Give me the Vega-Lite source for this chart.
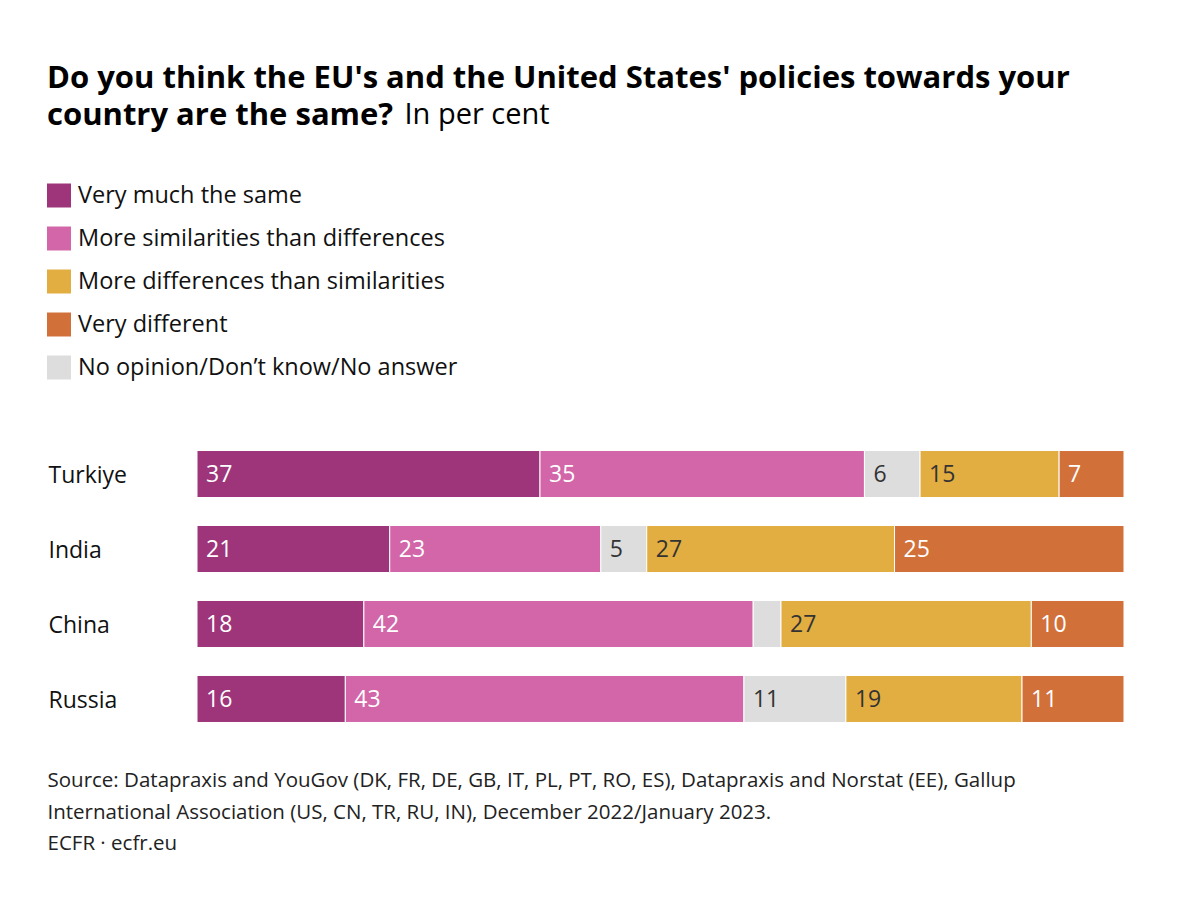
{
  "$schema": "https://vega.github.io/schema/vega-lite/v6.json",
  "width": 927,
  "height": 300,
  "autosize": {"type": "none"},
  "padding": {"left": 197, "top": 436.5, "right": 68, "bottom": 175.5},
  "background": "white",
  "config": {"view": {"stroke": null}, "font": "Open Sans"},
  "title": {
    "text": "Do you think the EU's and the United States' policies towards your",
    "subtitle": "country are the same?",
    "anchor": "start",
    "frame": "group",
    "dx": -150,
    "offset": -32,
    "fontSize": 31,
    "fontWeight": "bold",
    "font": "Open Sans",
    "color": "#000000",
    "subtitleFontSize": 31,
    "subtitleFontWeight": "bold",
    "subtitleFont": "Open Sans",
    "subtitleColor": "#000000",
    "subtitlePadding": 6
  },
  "data": {
    "values": [
      {"country": "Turkiye", "category": "Very much the same", "value": 37},
      {"country": "Turkiye", "category": "More similarities than differences", "value": 35},
      {"country": "Turkiye", "category": "No opinion/Don’t know/No answer", "value": 6},
      {"country": "Turkiye", "category": "More differences than similarities", "value": 15},
      {"country": "Turkiye", "category": "Very different", "value": 7},
      {"country": "India", "category": "Very much the same", "value": 21},
      {"country": "India", "category": "More similarities than differences", "value": 23},
      {"country": "India", "category": "No opinion/Don’t know/No answer", "value": 5},
      {"country": "India", "category": "More differences than similarities", "value": 27},
      {"country": "India", "category": "Very different", "value": 25},
      {"country": "China", "category": "Very much the same", "value": 18},
      {"country": "China", "category": "More similarities than differences", "value": 42},
      {"country": "China", "category": "No opinion/Don’t know/No answer", "value": 3},
      {"country": "China", "category": "More differences than similarities", "value": 27},
      {"country": "China", "category": "Very different", "value": 10},
      {"country": "Russia", "category": "Very much the same", "value": 16},
      {"country": "Russia", "category": "More similarities than differences", "value": 43},
      {"country": "Russia", "category": "No opinion/Don’t know/No answer", "value": 11},
      {"country": "Russia", "category": "More differences than similarities", "value": 19},
      {"country": "Russia", "category": "Very different", "value": 11}
    ]
  },
  "transform": [
    {"calculate": "indexof(['Very much the same','More similarities than differences','No opinion/Don’t know/No answer','More differences than similarities','Very different'], datum.category)", "as": "stackOrder"},
    {"stack": "value", "groupby": ["country"], "sort": [{"field": "stackOrder", "order": "ascending"}], "offset": "normalize", "as": ["v0", "v1"]}
  ],
  "encoding": {
    "y": {
      "field": "country",
      "type": "nominal",
      "sort": ["Turkiye", "India", "China", "Russia"],
      "scale": {"paddingInner": 0.373, "paddingOuter": 0.187},
      "axis": {
        "domain": false,
        "ticks": false,
        "grid": false,
        "labelAlign": "left",
        "labelPadding": 149,
        "labelOffset": 2,
        "labelFontSize": 23,
        "labelColor": "#111111",
        "labelFont": "Open Sans",
        "title": "In per cent",
        "titleAngle": 0,
        "titleX": 207,
        "titleY": -313.5,
        "titleAlign": "left",
        "titleBaseline": "alphabetic",
        "titleFontSize": 29,
        "titleFontWeight": "normal",
        "titleFont": "Open Sans",
        "titleColor": "#000000"
      }
    }
  },
  "layer": [
    {
      "mark": {"type": "bar", "stroke": "white", "strokeWidth": 1},
      "encoding": {
        "x": {
          "field": "v0",
          "type": "quantitative",
          "scale": {"domain": [0, 1], "nice": false},
          "axis": {
            "labels": false,
            "ticks": false,
            "domain": false,
            "grid": false,
            "title": [
              "Source: Datapraxis and YouGov (DK, FR, DE, GB, IT, PL, PT, RO, ES), Datapraxis and Norstat (EE), Gallup",
              "International Association (US, CN, TR, RU, IN), December 2022/January 2023.",
              "ECFR · ecfr.eu"
            ],
            "titleX": -150,
            "titleY": 50,
            "titleAlign": "left",
            "titleAnchor": "start",
            "titleBaseline": "alphabetic",
            "titleLineHeight": 31.5,
            "titleFontSize": 20.5,
            "titleFontWeight": "normal",
            "titleFont": "Open Sans",
            "titleColor": "#222222"
          }
        },
        "x2": {"field": "v1"},
        "color": {
          "field": "category",
          "type": "nominal",
          "scale": {
            "domain": ["Very much the same", "More similarities than differences", "More differences than similarities", "Very different", "No opinion/Don’t know/No answer"],
            "range": ["#9E357A", "#D266A9", "#E2AD41", "#D2703A", "#DDDDDD"]
          },
          "legend": {
            "orient": "none",
            "legendX": -150,
            "legendY": -253,
            "direction": "vertical",
            "title": null,
            "symbolType": "square",
            "symbolSize": 576,
            "symbolStrokeWidth": 0,
            "labelFontSize": 23.5,
            "labelFont": "Open Sans",
            "labelColor": "#111111",
            "labelOffset": 7,
            "labelLimit": 700,
            "rowPadding": 19,
            "padding": 0
          }
        }
      }
    },
    {
      "transform": [{"filter": "datum.value >= 4"}],
      "mark": {"type": "text", "align": "left", "baseline": "middle", "dx": 9, "dy": 1, "fontSize": 23, "font": "Open Sans"},
      "encoding": {
        "x": {"field": "v0", "type": "quantitative"},
        "text": {"field": "value", "type": "quantitative"},
        "color": {
          "condition": {"test": "datum.category === 'No opinion/Don’t know/No answer' || datum.category === 'More differences than similarities'", "value": "#333333"},
          "value": "white"
        }
      }
    }
  ]
}
